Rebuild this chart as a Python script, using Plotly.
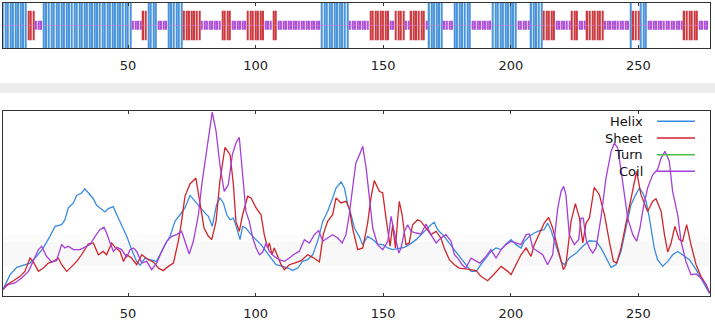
import plotly.graph_objects as go

# ---------------- data ----------------
# secondary-structure runs (state, run length), residue 1..277
ss_runs = [("H", 10), ("E", 3), ("C", 3), ("H", 35), ("C", 4), ("E", 2), ("H", 4), ("C", 4),
           ("H", 6), ("E", 7), ("C", 8), ("E", 4), ("C", 6), ("E", 7), ("C", 3), ("E", 2),
           ("C", 17), ("H", 11), ("C", 8), ("E", 8), ("C", 2), ("E", 4), ("C", 2), ("E", 6),
           ("C", 1), ("H", 6), ("C", 4), ("H", 7), ("C", 8), ("H", 10), ("C", 5), ("H", 5),
           ("E", 5), ("C", 6), ("E", 3), ("C", 3), ("E", 7), ("C", 10), ("H", 1), ("E", 3),
           ("H", 3), ("C", 14), ("E", 6), ("C", 4)]

series_names = ["Helix", "Sheet", "Turn", "Coil"]
tick_vals = [50, 100, 150, 200, 250]

helix_x = [1, 3.8, 6.4, 9.0, 11.6, 14.2, 16.8, 19.4, 21.4, 24.0, 25.3, 26.6, 28.6, 29.9, 31.8, 33.1,
           34.4, 36.4, 37.7, 39.0, 41.0, 42.3, 44.2, 45.6, 47.5, 49.5, 51.4, 53.4, 54.7, 56.7, 58.6,
           61.2, 62.5, 64.5, 66.5, 68.4, 70.4, 72.3, 74.3, 76.3, 78.2, 80.2, 81.5, 83.0, 84.7, 86.0,
           87.4, 88.7, 90.0, 91.3, 92.6, 93.9, 94.9, 96.2, 98.2, 100.2, 102.1, 104.1, 106.0, 108.0,
           110.6, 112.6, 114.5, 116.5, 118.4, 120.4, 122.4, 124.3, 126.3, 128.2, 130.2, 131.5, 133.5,
           134.8, 136.1, 137.4, 138.7, 140.6, 141.9, 143.9, 145.9, 147.8, 149.8, 151.8, 153.7, 156.3,
           158.3, 160.2, 162.9, 165.5, 167.4, 168.7, 170.0, 171.3, 173.3, 175.9, 178.5, 180.5, 182.4,
           184.4, 186.4, 188.3, 190.3, 192.2, 194.2, 196.2, 198.1, 200.1, 202.0, 204.0, 205.3, 207.3,
           209.2, 211.2, 213.1, 214.4, 215.7, 217.7, 219.7, 221.0, 222.9, 225.6, 228.2, 230.8, 233.4,
           235.3, 237.3, 239.3, 241.2, 243.2, 245.1, 247.1, 248.8, 250.4, 251.7, 253.0, 254.3, 256.2,
           257.5, 259.5, 261.5, 263.4, 265.4, 267.3, 270.0, 272.6, 275.2, 277.8]
helix_y = [3.3, 11.4, 15.4, 16.5, 17.7, 21.3, 25.9, 32.2, 37.6, 38.5, 41.2, 47.6, 50.3, 54.4, 55.7, 58.0,
           55.7, 52.6, 49.0, 47.6, 45.4, 47.2, 48.3, 43.9, 38.5, 32.2, 25.0, 18.6, 16.5, 20.4, 19.5,
           18.6, 22.2, 27.7, 32.2, 40.3, 43.9, 47.6, 54.4, 51.2, 47.6, 44.8, 43.0, 37.6, 49.4, 53.0,
           50.3, 43.9, 41.2, 42.1, 36.7, 30.4, 37.6, 36.7, 33.1, 30.4, 27.7, 24.0, 20.4, 16.8,
           15.9, 15.0, 13.7, 15.0, 18.6, 19.5, 22.2, 29.5, 40.3, 45.7, 53.0, 58.4, 61.7,
           58.4, 49.4, 43.9, 36.7, 32.2, 27.7, 32.2, 30.4, 28.0, 27.7, 25.9, 25.0, 25.9,
           26.2, 27.7, 30.4, 34.0, 36.7, 38.5, 39.8, 35.8, 33.1, 28.6, 24.0, 20.4, 16.8,
           13.2, 13.2, 16.8, 20.4, 24.0, 25.9, 25.0, 28.0, 30.4, 27.7, 25.9, 29.5, 32.2,
           34.0, 35.3, 35.8, 39.4, 35.8, 27.7, 18.6, 16.8, 20.4, 23.1, 26.8, 29.8, 29.5,
           25.9, 20.4, 15.4, 16.8, 24.0, 36.7, 49.4, 54.4, 58.4, 55.7, 51.2, 42.1, 25.9,
           19.5, 15.9, 18.6, 22.2, 24.0, 22.2, 19.5, 14.1, 7.8, 1.4]

sheet_x = [1, 2.5, 5.1, 7.7, 9.6, 11.6, 12.9, 14.9, 16.8, 18.8, 20.7, 22.7, 24.0, 26.0, 28.0, 29.9,
           31.8, 34.4, 36.4, 38.4, 40.3, 41.6, 43.6, 44.9, 46.9, 48.2, 49.5, 51.4, 53.4, 55.4, 58.0,
           59.9, 61.9, 63.8, 65.8, 67.8, 69.7, 71.0, 72.3, 74.3, 76.6, 78.2, 79.8, 81.5, 82.8, 84.5,
           86.0, 88.0, 90.0, 91.3, 92.3, 93.6, 94.9, 96.9, 98.2, 100.2, 102.1, 103.4, 104.7, 105.4,
           106.4, 107.3, 108.6, 110.0, 111.3, 113.2, 115.2, 117.8, 120.4, 122.4, 125.0, 126.5, 128.2,
           130.2, 131.5, 133.5, 135.4, 136.7, 138.0, 140.0, 142.0, 143.9, 145.2, 146.5, 148.5, 149.8,
           151.1, 152.7, 153.7, 154.8, 155.7, 156.3, 157.4, 158.9, 160.2, 161.5, 163.5, 164.8, 166.8,
           168.7, 170.7, 172.6, 173.9, 175.9, 177.9, 179.8, 182.4, 185.1, 186.4, 188.3, 190.9, 193.5,
           196.2, 198.8, 200.1, 202.0, 204.0, 206.0, 207.9, 209.2, 211.2, 213.1, 214.8, 216.4, 218.4,
           220.6, 221.6, 223.6, 225.3, 226.9, 228.2, 229.5, 230.8, 232.7, 234.7, 236.7, 238.6, 240.2,
           241.5, 243.2, 245.8, 247.8, 249.3, 251.0, 252.3, 253.6, 255.6, 256.9, 258.9, 260.2, 261.5,
           262.8, 264.3, 266.0, 267.3, 268.9, 270.6, 272.6, 274.5, 276.5, 278.0]
sheet_y = [3.3, 6.0, 8.1, 10.5, 13.2, 20.4, 18.3, 13.2, 15.0, 17.7, 18.6, 20.4, 16.8, 13.2, 15.9, 18.6,
           22.2, 28.0, 28.6, 22.2, 24.0, 22.2, 28.6, 26.2, 24.0, 18.6, 22.2, 20.4, 16.8, 22.2, 19.5,
           18.3, 15.0, 13.6, 15.9, 17.7, 29.5, 40.3, 53.9, 60.6, 63.8, 51.2, 36.7, 32.2, 30.4, 40.3,
           62.0, 80.5, 76.5, 60.2, 40.3, 34.9, 43.9, 53.9, 53.0, 47.6, 43.9, 33.1, 25.9, 28.6,
           22.2, 25.9, 21.3, 16.8, 14.1, 16.8, 17.7, 19.0, 22.2, 20.8, 18.3, 33.1, 40.3,
           43.9, 53.0, 50.3, 51.2, 47.6, 36.7, 25.0, 25.9, 39.4, 53.0, 62.4, 56.6, 55.7,
           42.1, 26.8, 38.5, 25.9, 42.1, 51.2, 43.9, 27.7, 28.6, 38.5, 41.2, 40.3, 36.7,
           33.1, 34.9, 31.3, 25.9, 19.5, 16.8, 15.0, 14.6, 14.1, 13.6, 10.5, 8.1, 11.8,
           15.9, 13.2, 11.4, 16.8, 22.2, 25.9, 21.3, 27.7, 34.0, 39.4, 42.5, 36.7, 25.9,
           14.1, 16.8, 40.3, 49.9, 42.1, 28.6, 39.4, 42.1, 58.8, 54.8, 43.9, 29.5, 18.6,
           17.7, 25.9, 43.9, 58.4, 67.4, 54.8, 50.3, 45.7, 51.2, 52.6, 45.7, 33.1, 23.7,
           28.6, 37.6, 30.4, 29.5, 38.5, 27.7, 16.8, 10.5, 6.0, 1.4]

turn_x = []
turn_y = []

coil_x = [1, 3.1, 5.7, 8.3, 11.0, 12.9, 14.9, 16.2, 18.1, 20.1, 22.0, 24.0, 25.3, 26.6, 28.6, 31.2,
          33.1, 35.1, 37.1, 39.0, 40.6, 41.6, 43.0, 44.3, 45.6, 47.5, 49.5, 50.8, 52.1, 53.4, 55.4,
          57.3, 59.3, 61.2, 63.2, 65.2, 67.1, 69.1, 71.0, 72.3, 74.0, 75.6, 77.6, 78.9, 80.2, 81.5,
          83.0, 84.5, 86.0, 87.7, 89.3, 90.9, 92.3, 93.6, 94.9, 96.2, 97.5, 98.9, 100.2, 101.5,
          102.8, 104.1, 105.4, 107.3, 109.3, 111.3, 113.2, 115.2, 117.1, 119.1, 121.1, 123.0, 124.7,
          126.3, 128.2, 130.2, 132.2, 133.9, 135.4, 136.7, 138.0, 139.3, 140.7, 142.0, 143.3, 144.6,
          145.9, 147.8, 149.8, 151.8, 153.1, 154.0, 155.0, 156.1, 157.0, 158.3, 159.6, 160.9, 162.9,
          164.8, 166.8, 168.7, 170.7, 172.6, 174.6, 176.6, 177.9, 179.2, 180.9, 182.4, 184.4, 186.4,
          187.9, 190.3, 192.2, 194.2, 196.2, 198.1, 200.1, 202.0, 204.0, 206.0, 207.3, 208.6, 210.5,
          212.5, 214.4, 216.4, 218.4, 219.7, 220.7, 221.6, 222.9, 224.9, 226.6, 227.5, 228.4, 229.5,
          230.8, 232.1, 233.4, 235.3, 237.3, 239.3, 240.6, 241.9, 243.8, 245.8, 247.8, 249.3, 250.6,
          251.9, 253.6, 255.6, 257.5, 258.9, 260.4, 262.1, 263.4, 265.4, 266.7, 268.6, 270.6, 272.6,
          274.5, 276.5, 277.8]
coil_y = [3.3, 6.0, 6.9, 9.6, 13.2, 18.6, 25.0, 26.8, 21.3, 18.3, 19.0, 27.7, 25.9, 26.8, 25.0, 25.0,
          26.2, 27.7, 32.2, 35.8, 37.1, 34.0, 28.6, 24.0, 26.2, 25.0, 20.8, 25.0, 25.9, 24.0, 17.7,
          18.6, 14.1, 17.7, 24.0, 29.5, 32.2, 33.1, 34.9, 29.5, 22.6, 29.5, 43.9, 60.2, 72.9, 87.3,
          99.6, 89.2, 71.1, 56.6, 60.2, 76.5, 82.8, 85.9, 65.6, 45.7, 40.3, 31.3, 25.9, 22.2,
          23.7, 28.6, 24.0, 21.3, 19.5, 18.6, 20.4, 22.6, 24.0, 30.4, 28.6, 33.1, 35.3,
          29.5, 31.3, 33.1, 31.3, 28.6, 33.1, 43.9, 58.4, 72.0, 76.5, 81.0, 69.3, 53.0,
          36.7, 27.7, 25.0, 29.5, 43.0, 36.7, 29.5, 23.1, 25.9, 34.9, 38.5, 34.9, 34.0,
          33.5, 38.9, 33.1, 28.6, 31.3, 33.1, 29.5, 22.2, 20.4, 16.8, 15.0, 20.4, 19.0,
          17.7, 21.3, 25.0, 20.4, 25.0, 27.7, 29.5, 28.6, 27.7, 33.1, 33.5, 25.9, 24.0,
          22.2, 16.8, 22.2, 47.6, 56.6, 59.3, 54.8, 33.1, 27.7, 30.4, 42.1, 42.1, 30.4,
          25.9, 23.1, 25.9, 42.1, 63.8, 78.3, 82.8, 80.1, 62.0, 42.1, 33.1, 29.5, 36.7,
          47.6, 58.4, 65.6, 68.4, 74.7, 78.3, 72.9, 56.6, 43.9, 29.5, 18.6, 11.4, 11.8,
          9.6, 6.0, 1.4]

# ---------------- styling ----------------
W, H = 715, 327
FONT = "DejaVu Sans"
colors = {"Helix": "#3a8ce0", "Sheet": "#d0252b", "Turn": "#45c04a", "Coil": "#a53fd8"}
bar_style = {  # state: (name, base, height, fill, width)
    "H": ("Helix", 0.0, 1.0, "#4a94dc", 0.55),
    "E": ("Sheet", 0.18, 0.65, "#cc3a40", 0.55),
    "C": ("Coil", 0.41, 0.20, "#ab4ed8", 0.6),
}

def px_x(p):
    return p / W

def px_y(p):
    return 1 - p / H

top_dom = [px_y(48.3), px_y(3.0)]
bot_dom = [px_y(295.7), px_y(111.3)]
x_dom = [px_x(2.7), px_x(710.0)]
x_range = [0.9, 278.05]

fig = go.Figure()

# expand runs into residue positions per state
pos = {"H": [], "E": [], "C": []}
r = 1
for st, n in ss_runs:
    for _ in range(n):
        pos[st].append(r)
        r += 1
n_res = r - 1

# middle guide line in top panel
fig.add_trace(go.Scatter(x=[1, n_res], y=[0.505, 0.505], mode="lines",
                         line=dict(color="rgba(215,120,215,0.55)", width=1),
                         xaxis="x", yaxis="y", showlegend=False, hoverinfo="skip"))

for st in ["H", "E", "C"]:
    name, base, h, fill, wd = bar_style[st]
    xs = pos[st]
    fig.add_trace(go.Bar(x=xs, y=[h] * len(xs), base=[base] * len(xs), width=wd,
                         marker=dict(color=fill, line=dict(width=0)),
                         xaxis="x", yaxis="y", showlegend=False, name=name))

series = [("Helix", helix_x, helix_y), ("Sheet", sheet_x, sheet_y),
          ("Turn", turn_x, turn_y), ("Coil", coil_x, coil_y)]
for name, xs, ys in series:
    if len(xs) == 0:
        continue
    fig.add_trace(go.Scatter(x=xs, y=ys, mode="lines", name=name,
                             line=dict(color=colors[name], width=1.3),
                             xaxis="x2", yaxis="y2", showlegend=False))

axis_common = dict(showline=True, linecolor="#333", linewidth=1.2, mirror="ticks",
                   showgrid=False, zeroline=False)

fig.update_layout(
    width=W, height=H, margin=dict(l=0, r=0, t=0, b=0),
    paper_bgcolor="white", plot_bgcolor="rgba(0,0,0,0)",
    barmode="overlay", showlegend=False,
    font=dict(family=FONT, size=13, color="#222"),
    xaxis=dict(domain=x_dom, range=x_range, anchor="y", tickvals=tick_vals,
               ticks="inside", ticklen=3, tickcolor="#333", ticklabelstandoff=5,
               tickfont=dict(family=FONT, size=13, color="#222"), **axis_common),
    yaxis=dict(domain=top_dom, range=[0, 1], anchor="x", showticklabels=False,
               ticks="", **axis_common),
    xaxis2=dict(domain=x_dom, range=x_range, anchor="y2", tickvals=tick_vals,
                ticks="inside", ticklen=3, tickcolor="#333", ticklabelstandoff=6,
                tickfont=dict(family=FONT, size=13, color="#222"), **axis_common),
    yaxis2=dict(domain=bot_dom, range=[0, 100], anchor="x2", showticklabels=False,
                ticks="", **axis_common),
)

shapes = [
    # gray strip between panels
    dict(type="rect", xref="paper", yref="paper", x0=0, x1=1, y0=px_y(93), y1=px_y(83),
         fillcolor="#ececec", line=dict(width=0), layer="below"),
    # faint shadow band in lower panel
    dict(type="rect", xref="paper", yref="paper", x0=px_x(3), x1=px_x(709), y0=px_y(272), y1=px_y(234),
         fillcolor="rgba(0,0,0,0.01)", line=dict(width=0), layer="below"),
    dict(type="rect", xref="paper", yref="paper", x0=px_x(3), x1=px_x(709), y0=px_y(266), y1=px_y(242),
         fillcolor="rgba(0,0,0,0.015)", line=dict(width=0), layer="below"),
]
annotations = []
legend_rows = [121.3, 138.0, 154.7, 171.3]
for name, yy in zip(series_names, legend_rows):
    annotations.append(dict(x=px_x(644.5), y=px_y(yy), xref="paper", yref="paper",
                            text=name, showarrow=False, xanchor="right", yanchor="middle",
                            font=dict(family=FONT, size=13, color="#111")))
    shapes.append(dict(type="line", xref="paper", yref="paper", x0=px_x(657), x1=px_x(695),
                       y0=px_y(yy), y1=px_y(yy), line=dict(color=colors[name], width=1.5)))

fig.update_layout(shapes=shapes, annotations=annotations)
fig.write_html("out.html")
